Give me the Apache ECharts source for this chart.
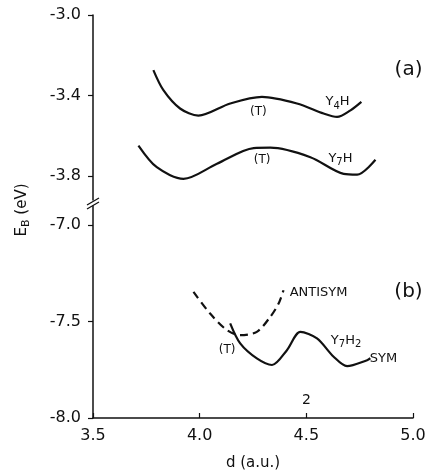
<!DOCTYPE html>
<html><head><meta charset="utf-8">
<script src="https://cdn.jsdelivr.net/npm/echarts@6/dist/echarts.min.js"></script>
<style>html,body{margin:0;padding:0;background:#fff}#c{width:432px;height:472px}</style>
</head><body><div id="c"></div>
<script>
// ---- data (d in a.u., E_B in eV) ----
var y4h = [[3.783,-3.274],[3.83,-3.374],[3.908,-3.465],[3.994,-3.500],[4.143,-3.44],[4.292,-3.407],[4.456,-3.44],[4.581,-3.49],[4.644,-3.507],[4.707,-3.474],[4.758,-3.432]];
var y7h = [[3.713,-3.649],[3.799,-3.757],[3.924,-3.815],[4.081,-3.74],[4.253,-3.662],[4.331,-3.660],[4.519,-3.707],[4.675,-3.79],[4.738,-3.794],[4.824,-3.72]];
var antisym = [[3.971,-7.346],[4.049,-7.458],[4.128,-7.544],[4.190,-7.570],[4.268,-7.553],[4.331,-7.475],[4.37,-7.406],[4.393,-7.337]];
var sym = [[4.143,-7.509],[4.19,-7.613],[4.268,-7.691],[4.339,-7.725],[4.409,-7.648],[4.472,-7.553],[4.55,-7.587],[4.628,-7.682],[4.691,-7.731],[4.785,-7.70],[4.80,-7.69]];
var xTicks = [3.5, 4.0, 4.5, 5.0];
var yTicksUpper = [-3.8, -3.4, -3.0];
var yTicksLower = [-8.0, -7.5, -7.0];
// annotations: [text, d, E, gridIndex, align, style]
var notes = [
  ['(a)', 4.979, -3.274, 0, 'center', 'big'],
  ['{n|Y}{s|4}{n|H}', 4.646, -3.433, 0, 'center', 'lab'],
  ['(T)', 4.275, -3.483, 0, 'center', 'small'],
  ['{n|Y}{s|7}{n|H}', 4.660, -3.712, 0, 'center', 'lab'],
  ['(T)', 4.293, -3.722, 0, 'center', 'small'],
  ['(b)', 4.979, -7.347, 1, 'center', 'big'],
  ['ANTISYM', 4.422, -7.347, 1, 'left', 'lab'],
  ['{n|Y}{s|7}{n|H}{s|2}', 4.615, -7.596, 1, 'left', 'lab'],
  ['(T)', 4.129, -7.648, 1, 'center', 'small'],
  ['SYM', 4.797, -7.694, 1, 'left', 'lab'],
  ['2', 4.5, -7.907, 1, 'center', 'mid']
];

var FONT = 'DejaVu Sans';
var chart = echarts.init(document.getElementById('c'), null, {renderer:'canvas'});
var axisLine = {show:true, lineStyle:{color:'#111', width:1.5}};
function fmt(v){ return v.toFixed(1); }
var option = {
  backgroundColor:'#fff',
  animation:false,
  grid:[
    {left:93, right:19, top:15, height:185},
    {left:93, right:19, top:206, height:212}
  ],
  xAxis:[
    {gridIndex:0, type:'value', min:3.5, max:5.0, show:false},
    {gridIndex:1, type:'value', min:3.5, max:5.0, interval:0.5,
     axisLine:axisLine, splitLine:{show:false},
     axisTick:{inside:true, length:5, lineStyle:{color:'#111', width:1.2}},
     axisLabel:{formatter:fmt, color:'#111', fontFamily:FONT, fontSize:16, margin:10},
     name:'d (a.u.)', nameLocation:'middle', nameGap:38,
     nameTextStyle:{color:'#111', fontFamily:FONT, fontSize:15}}
  ],
  yAxis:[
    {gridIndex:0, type:'value', min:-3.92, max:-3.0,
     axisLine:axisLine, splitLine:{show:false},
     axisTick:{show:true, length:5, customValues:yTicksUpper, lineStyle:{color:'#111', width:1.2}},
     axisLabel:{customValues:yTicksUpper, formatter:fmt, color:'#111', fontFamily:FONT, fontSize:16, margin:12}},
    {gridIndex:1, type:'value', min:-8.0, max:-6.9,
     axisLine:axisLine, splitLine:{show:false},
     axisTick:{show:true, length:5, customValues:yTicksLower, lineStyle:{color:'#111', width:1.2}},
     axisLabel:{customValues:yTicksLower, formatter:fmt, color:'#111', fontFamily:FONT, fontSize:16, margin:12}}
  ],
  series:[
    {type:'line', xAxisIndex:0, yAxisIndex:0, data:y4h, smooth:0.3, symbol:'none', lineStyle:{color:'#111', width:2.2}},
    {type:'line', xAxisIndex:0, yAxisIndex:0, data:y7h, smooth:0.3, symbol:'none', lineStyle:{color:'#111', width:2.2}},
    {type:'line', xAxisIndex:1, yAxisIndex:1, data:antisym, smooth:0.3, symbol:'none', lineStyle:{color:'#111', width:2.2, type:[8,5]}},
    {type:'line', xAxisIndex:1, yAxisIndex:1, data:sym, smooth:0.3, symbol:'none', lineStyle:{color:'#111', width:2.2}}
  ]
};
chart.setOption(option);

var rich = {
  n:{fontFamily:FONT, fontSize:13, color:'#111', lineHeight:18, verticalAlign:'middle'},
  s:{fontFamily:FONT, fontSize:10, color:'#111', lineHeight:18, verticalAlign:'bottom', padding:[8,0,0,0]}
};
var sizes = {big:20, lab:13, small:12, mid:14};
var g = [];
notes.forEach(function(n){
  var p = chart.convertToPixel({gridIndex:n[3]}, [n[1], n[2]]);
  g.push({type:'text', x:p[0], y:p[1], style:{text:n[0], rich:rich, fill:'#111', font: sizes[n[5]]+'px "'+FONT+'"', align:n[4], verticalAlign:'middle'}});
});
// axis break marks
g.push({type:'line', shape:{x1:87, y1:205, x2:99, y2:198}, style:{stroke:'#111', lineWidth:1.3}});
g.push({type:'line', shape:{x1:87, y1:209, x2:99, y2:202}, style:{stroke:'#111', lineWidth:1.3}});
// y-axis title
g.push({type:'text', x:22, y:210, rotation:Math.PI/2,
  style:{text:'{n|E}{s|B}{n| (eV)}', align:'center', verticalAlign:'middle',
    rich:{n:{fontFamily:FONT, fontSize:15, fill:'#111', lineHeight:20, verticalAlign:'middle'},
          s:{fontFamily:FONT, fontSize:11, fill:'#111', lineHeight:20, verticalAlign:'bottom', padding:[8,0,0,0]}}}});
chart.setOption({graphic:g});
</script></body></html>
